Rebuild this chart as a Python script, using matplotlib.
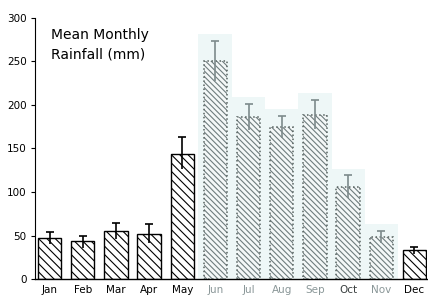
import matplotlib
matplotlib.use("Agg")
import matplotlib.pyplot as plt

# mean monthly rainfall (mm) with error bar limits
months = ["Jan", "Feb", "Mar", "Apr", "May", "Jun",
          "Jul", "Aug", "Sep", "Oct", "Nov", "Dec"]
rain = [47, 44, 55, 52, 144, 251, 186, 175, 189, 106, 48, 33]
err_hi = [54, 50, 64, 63, 163, 274, 201, 187, 206, 119, 55, 37]
err_lo = [40, 36, 46, 41, 126, 228, 171, 162, 172, 93, 41, 29]
wet = [False, False, False, False, False, True,
       True, True, True, True, True, False]
y_ticks = [0, 50, 100, 150, 200, 250, 300]

plt.rcParams["font.family"] = "DejaVu Sans"
plt.rcParams["hatch.linewidth"] = 0.8

fig = plt.figure(figsize=(4.28, 2.98), dpi=100)
ax = fig.add_axes([35 / 428, 19 / 298, 392 / 428, 261 / 298])

x = list(range(len(months)))
width = 0.7
halo = "#eef7f7"
grey = "#6f7d7e"

for i in x:
    if wet[i]:
        # pale wash behind the wet-season bars
        ax.bar(i, err_hi[i] + 8, width=1.02, color=halo,
               edgecolor="none", zorder=0)
        ax.bar(i, rain[i], width=width, color="#f4f8f8", edgecolor=grey,
               hatch="\\" * 6, linewidth=0, zorder=2)
        ax.bar(i, rain[i], width=width, fill=False, edgecolor="#56615f",
               linestyle=":", linewidth=1.1, zorder=3)
        ecol = "#7d8a8b"
    else:
        ax.bar(i, rain[i], width=width, color="white", edgecolor="black",
               hatch="\\" * 4, linewidth=0, zorder=2)
        ax.bar(i, rain[i], width=width, fill=False, edgecolor="black",
               linewidth=1.0, zorder=3)
        ecol = "black"
    ax.vlines(i, err_lo[i], err_hi[i], color=ecol, linewidth=1.2, zorder=4)
    ax.hlines(err_hi[i], i - 0.12, i + 0.12, color=ecol, linewidth=1.2,
              zorder=4)

ax.set_xlim(-0.44, 11.38)
ax.set_ylim(0, 300)
ax.set_yticks(y_ticks)
ax.set_xticks(x)
ax.set_xticklabels(months)
for lab, w, m in zip(ax.get_xticklabels(), wet, months):
    if m == "Oct":
        lab.set_color("#3a4040")
    elif w:
        lab.set_color("#8a9798")

ax.tick_params(axis="y", direction="out", length=3, width=0.8, pad=3,
               labelsize=7.5)
ax.tick_params(axis="x", length=0, pad=4, labelsize=7.5)
ax.spines["top"].set_visible(False)
ax.spines["right"].set_visible(False)
ax.spines["left"].set_linewidth(0.8)
ax.spines["bottom"].set_linewidth(1.0)

ax.text(0.04, 0.96, "Mean Monthly\nRainfall (mm)", transform=ax.transAxes,
        fontsize=10, va="top", ha="left", linespacing=1.45)

fig.savefig("out.png", dpi=100)
